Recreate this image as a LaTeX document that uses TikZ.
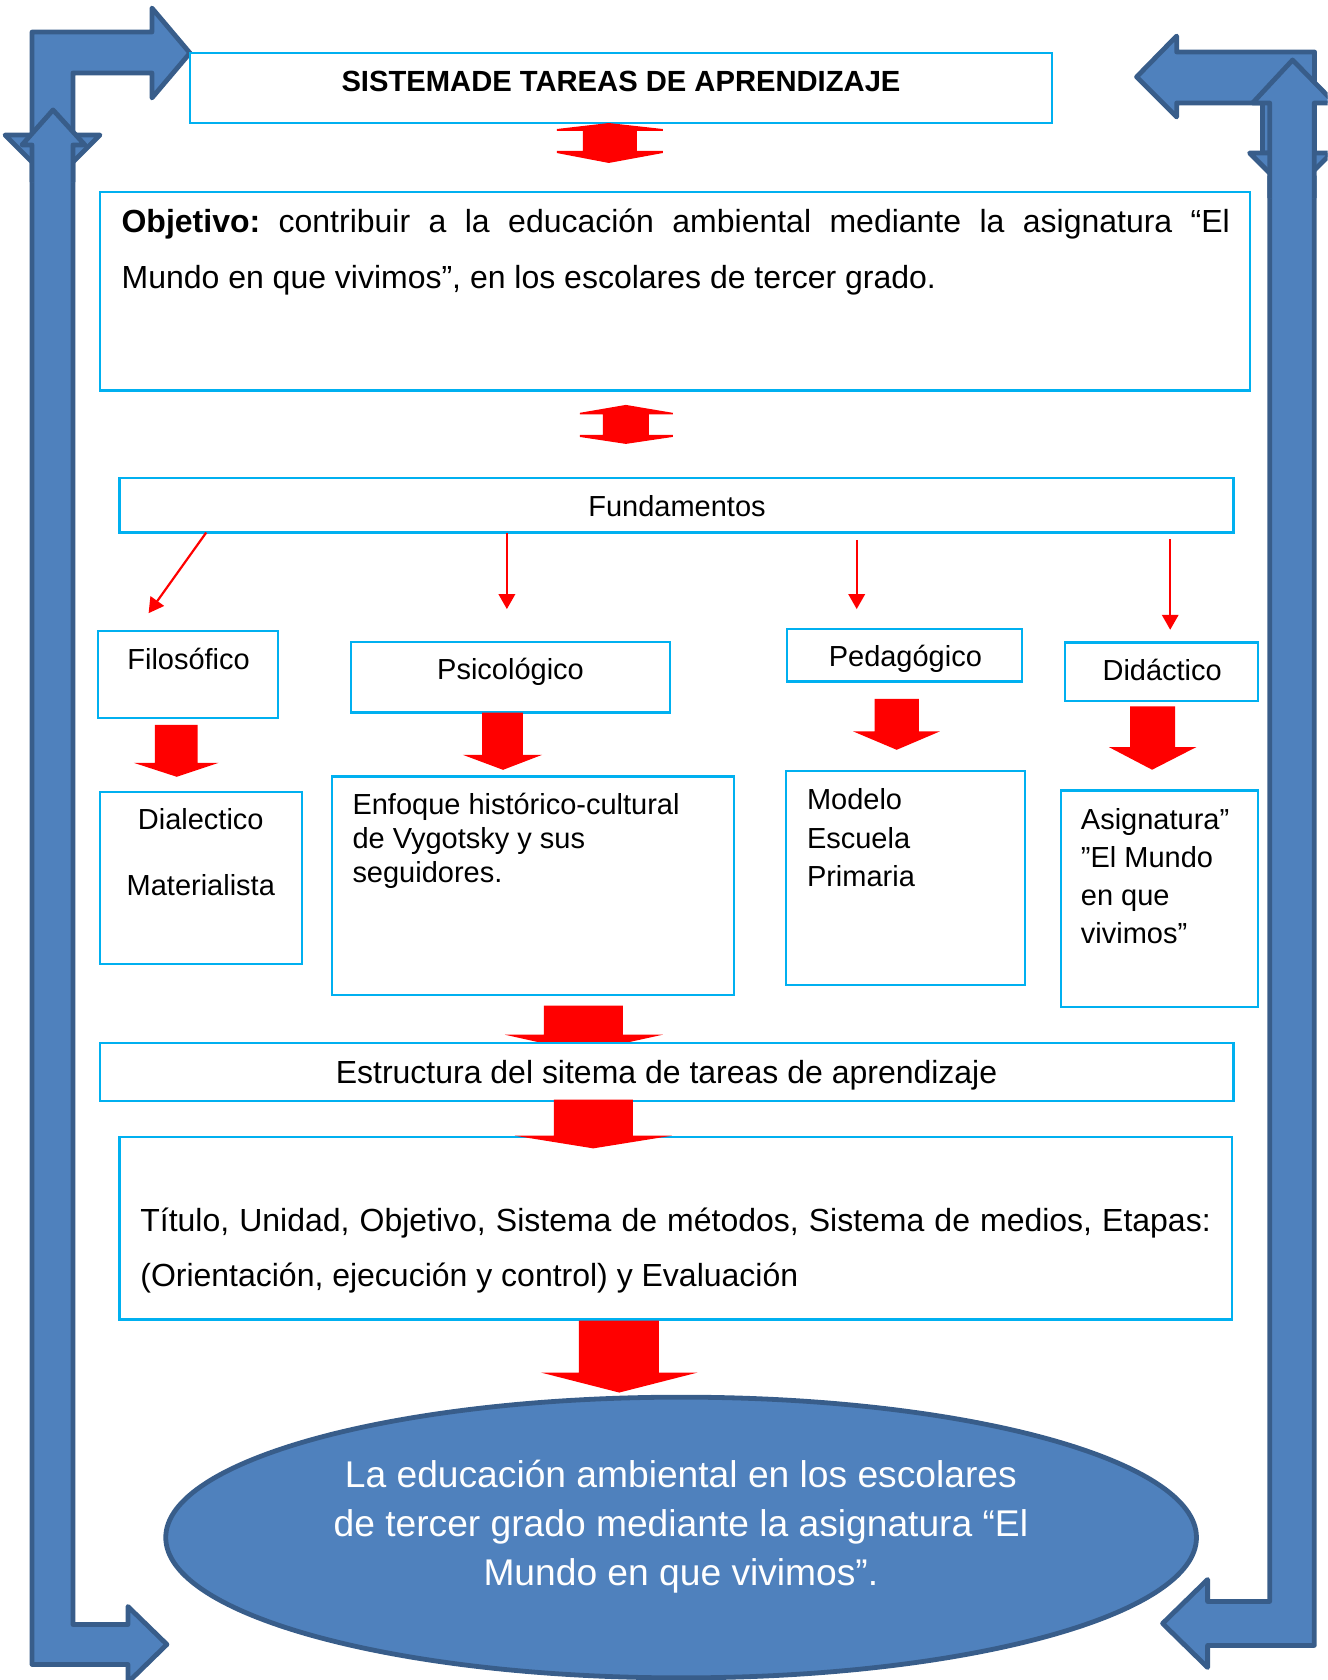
\documentclass[tikz,border=0pt]{standalone}
\usepackage{fontspec}
\setmainfont{Liberation Sans}
\usetikzlibrary{arrows.meta,shapes.geometric}
\definecolor{cyanb}{HTML}{00B0F0}
\definecolor{bfill}{HTML}{4F81BD}
\definecolor{bline}{HTML}{385D8A}
\frenchspacing
\newcommand{\cbox}[5]{\node[cbox, minimum width={(#4-#2)*0.5359pt}, minimum height={(#5-#3)*0.5359pt}] (#1) at ({(#2+#4)/2},{(#3+#5)/2}) {};}
\newcommand{\dnarrow}[8]{\fill[red] (#1,#3) -- (#2,#3) -- (#2,#4) -- (#6,#4) -- (#7,#8) -- (#5,#4) -- (#1,#4) -- cycle;}
\begin{document}
\begin{tikzpicture}[x=0.5359pt,y=-0.5359pt,
  cbox/.style={draw=cyanb, line width=1.1pt, fill=white, inner sep=0pt, outer sep=0pt, rectangle},
  txt/.style={inner sep=0pt, outer sep=0pt, font=\fontsize{14.5}{17}\selectfont},
  bigtxt/.style={inner sep=0pt, outer sep=0pt, font=\fontsize{16}{19}\selectfont},
  elltxt/.style={inner sep=0pt, outer sep=0pt, text=white, font=\fontsize{18.6}{22}\selectfont},
  bshape/.style={fill=bfill, draw=bline, line width=2.4pt, line join=round},
  bfillonly/.style={fill=bfill},
  bdrawonly/.style={draw=bline, line width=2.4pt, line join=round},
  thinarr/.style={draw=red, line width=1.1pt, -{Triangle[width=8.2pt,length=7.5pt]}}
]
\useasboundingbox (0,0) rectangle (1239,1568);
\clip (0,0) rectangle (1239,1568);

% ---------- blue frame arrows, left ----------
\draw[bshape] (29.9,126) -- (29.9,29.9) -- (141.8,29.9) -- (141.8,7.5) -- (177.3,49.5) -- (141.8,91.4) -- (141.8,68.1) -- (68.1,68.1) -- (68.1,126) -- cycle;
\draw[bshape] (4.7,126) -- (93.3,126) -- (49,170.3) -- cycle;
\draw[bshape] (29.9,150) -- (29.9,1553.5) -- (119.4,1553.5) -- (119.4,1570.3) -- (155.8,1534.8) -- (119.4,1499.4) -- (119.4,1516.2) -- (68.1,1516.2) -- (68.1,150) -- cycle;
\fill[bfillonly] (29.9,170) -- (29.9,135.3) -- (20.5,135.3) -- (49.5,102.6) -- (79.3,135.3) -- (68.1,135.3) -- (68.1,170) -- cycle;
\draw[bdrawonly] (29.9,170) -- (29.9,135.3) -- (20.5,135.3) -- (49.5,102.6) -- (79.3,135.3) -- (68.1,135.3) -- (68.1,170);

% ---------- blue frame arrows, right ----------
\draw[bshape] (1178.4,142.8) -- (1178.4,96.1) -- (1098.2,96.1) -- (1098.2,109.2) -- (1060.8,71.8) -- (1098.2,33.6) -- (1098.2,48.5) -- (1226.9,48.5) -- (1226.9,142.8) -- cycle;
\draw[bshape] (1166.3,142.8) -- (1242.7,142.8) -- (1204.5,181) -- cycle;
\draw[bshape] (1185,165) -- (1185,1494.7) -- (1127.1,1494.7) -- (1127.1,1474.2) -- (1085.1,1515.2) -- (1127.1,1556.3) -- (1127.1,1535.7) -- (1226.7,1535.7) -- (1226.7,165) -- cycle;
\fill[bfillonly] (1185,185) -- (1185,96.1) -- (1169.1,96.1) -- (1206.4,56) -- (1245.6,96.1) -- (1226.7,96.1) -- (1226.7,185) -- cycle;
\draw[bdrawonly] (1185,185) -- (1185,96.1) -- (1169.1,96.1) -- (1206.4,56) -- (1245.6,96.1) -- (1226.7,96.1) -- (1226.7,185);

% ---------- arrow hidden under Estructura ----------
\dnarrow{507.6}{581.3}{938.6}{965.7}{471.2}{618.6}{544.4}{982}

% ---------- boxes ----------
\cbox{title}{177.3}{49.8}{981.8}{114.5}
\cbox{obj}{93.3}{179}{1166.3}{364.5}
\cbox{fund}{111.6}{446.3}{1151.2}{497}
\cbox{filo}{91.2}{588.8}{259.5}{670.2}
\cbox{psic}{327.4}{599.3}{625.6}{665}
\cbox{peda}{734.6}{586.9}{953.5}{636}
\cbox{dida}{993.8}{599.6}{1174.4}{654}
\cbox{dial}{93.7}{739}{282}{899.4}
\cbox{enfo}{309.5}{724.7}{684.8}{928.4}
\cbox{mode}{733.5}{719.4}{956.5}{919}
\cbox{asig}{990.1}{737.7}{1174.4}{939.9}
\cbox{estr}{93.7}{973.5}{1151.2}{1027.9}
\cbox{titu}{111.6}{1061.2}{1150}{1231.6}

% ---------- goal ellipse ----------
\node[ellipse, draw=bline, fill=bfill, line width=2.4pt, inner sep=0pt, minimum width={962*0.5359pt}, minimum height={262*0.5359pt}] (goal) at (635.7,1435) {};

% ---------- red double arrows ----------
\fill[red] (568.2,114.8) -- (618.6,120.4) -- (618.6,122.2) -- (594.3,122.2) -- (594.3,140.9) -- (618.6,140.9) -- (618.6,142.8) -- (568.2,152.1) -- (519.7,142.8) -- (519.7,140.9) -- (544,140.9) -- (544,122.2) -- (519.7,122.2) -- (519.7,120.4) -- cycle;
\fill[red] (584.1,377.9) -- (627.9,385.3) -- (627.9,386.8) -- (605.5,386.8) -- (605.5,405.9) -- (627.9,405.9) -- (627.9,407.8) -- (584.1,414.3) -- (541.1,407.8) -- (541.1,405.9) -- (562.6,405.9) -- (562.6,386.8) -- (541.1,386.8) -- (541.1,385.3) -- cycle;

% ---------- red block arrows ----------
\dnarrow{144.5}{184.5}{676.5}{712}{125}{204}{165}{725}
\dnarrow{450}{488}{665}{704.5}{432}{506}{469.5}{718.5}
\dnarrow{816.4}{857.5}{652.2}{682.6}{796.2}{877.3}{836.9}{699.8}
\dnarrow{1054.8}{1096.7}{659.3}{697.3}{1035}{1116.5}{1075.3}{718.4}
\dnarrow{516.9}{590.6}{1026.3}{1060}{480.5}{627}{553.7}{1071.8}
\dnarrow{540.2}{614.9}{1232.5}{1281}{504.8}{651.2}{578}{1299.7}

% ---------- thin red arrows ----------
\coordinate (s1) at (192.5,497);
\coordinate (e1) at (138.7,572.3);
\coordinate (s2) at (473.1,497);
\coordinate (e2) at (473.1,568.5);
\coordinate (s3) at (799.6,503.8);
\coordinate (e3) at (799.6,568.5);
\coordinate (s4) at (1092.2,503.2);
\coordinate (e4) at (1092.2,587.8);
\draw[thinarr] (s1) -- (e1);
\draw[thinarr] (s2) -- (e2);
\draw[thinarr] (s3) -- (e3);
\draw[thinarr] (s4) -- (e4);

% ---------- texts ----------
\node[txt, font=\bfseries\fontsize{14.6}{17}\selectfont] (ttlt) at (579.6,75.8) {SISTEMADE TAREAS DE APRENDIZAJE};
\node[bigtxt, anchor=base west] (obj1) at (113.5,216.8) {\makebox[554.4pt][s]{\textbf{Objetivo:} contribuir a la educación ambiental mediante la asignatura “El}};
\node[bigtxt, anchor=base west] (obj2) at (113.5,269) {Mundo en que vivimos”, en los escolares de tercer grado.};
\node[txt, anchor=base] (fundt) at (631.9,482) {Fundamentos};
\node[txt, anchor=base] (filot) at (176,625) {Filosófico};
\node[txt, anchor=base] (psict) at (476.5,633.8) {Psicológico};
\node[txt, anchor=base] (pedat) at (845,622) {Pedagógico};
\node[txt, anchor=base] (didat) at (1084.7,635.1) {Didáctico};
\node[txt, anchor=base] (dial1) at (187.4,774.4) {Dialectico};
\node[txt, anchor=base] (dial2) at (187.4,836) {Materialista};
\node[txt, anchor=base west] (enf1) at (329,760.4) {Enfoque histórico-cultural};
\node[txt, anchor=base west] (enf2) at (329,791.5) {de Vygotsky y sus};
\node[txt, anchor=base west] (enf3) at (329,823.5) {seguidores.};
\node[txt, anchor=base west] (mod1) at (753.2,755.1) {Modelo};
\node[txt, anchor=base west] (mod2) at (753.2,791.5) {Escuela};
\node[txt, anchor=base west] (mod3) at (753.2,827.3) {Primaria};
\node[txt, anchor=base west] (asi1) at (1008.9,773.8) {Asignatura”};
\node[txt, anchor=base west] (asi2) at (1008.9,809.3) {”El Mundo};
\node[txt, anchor=base west] (asi3) at (1008.9,845.3) {en que};
\node[txt, anchor=base west] (asi4) at (1008.9,880.8) {vivimos”};
\node[bigtxt, anchor=base] (estt) at (622.1,1010.8) {Estructura del sitema de tareas de aprendizaje};
\node[bigtxt, anchor=base west] (tit1) at (131,1149.2) {\makebox[535.4pt][s]{Título, Unidad, Objetivo, Sistema de métodos, Sistema de medios, Etapas:}};
\node[bigtxt, anchor=base west] (tit2) at (131,1201.1) {(Orientación, ejecución y control) y Evaluación};
\node[elltxt, anchor=base] (g1) at (635.5,1388.5) {La educación ambiental en los escolares};
\node[elltxt, anchor=base] (g2) at (635.5,1434) {de tercer grado mediante la asignatura “El};
\node[elltxt, anchor=base] (g3) at (635.5,1479.5) {Mundo en que vivimos”.};
\end{tikzpicture}
\end{document}
